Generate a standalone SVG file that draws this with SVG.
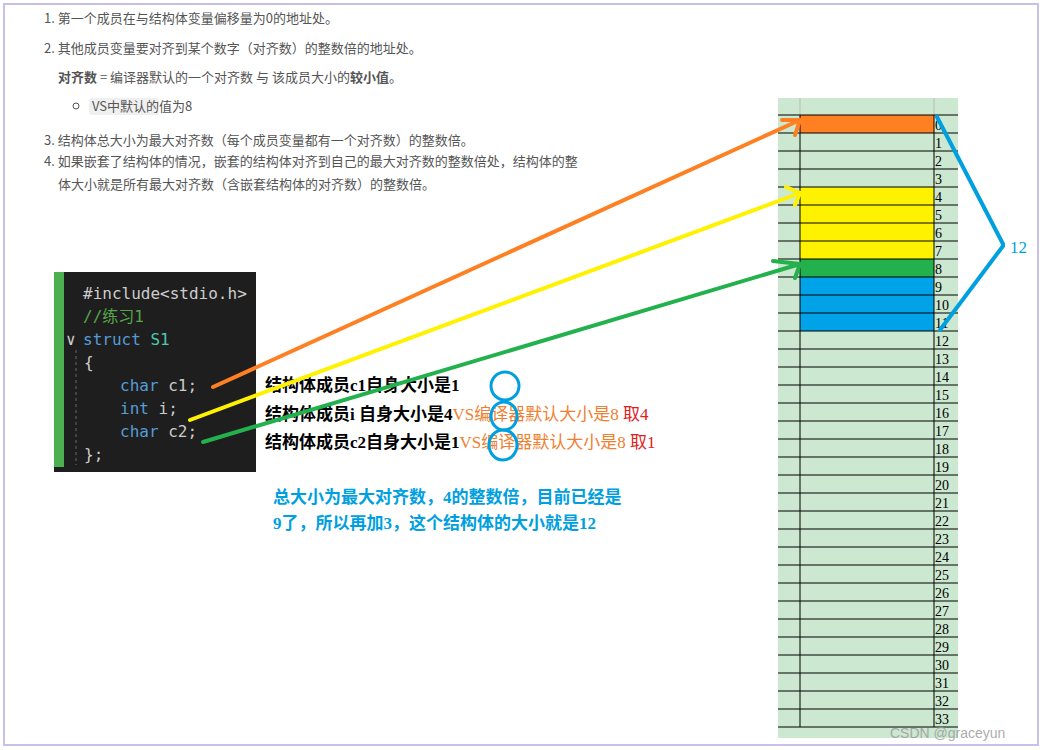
<svg xmlns="http://www.w3.org/2000/svg" width="1043" height="750" viewBox="0 0 1043 750">
<style>
.t{font-family:"Noto Sans CJK SC","Noto Sans",sans-serif;font-size:13px;fill:#555}
.code{font-family:"DejaVu Sans Mono","Noto Sans CJK SC",monospace;font-size:16px}
.s{font-family:"Liberation Serif","Noto Sans CJK SC",serif;font-size:17px;font-weight:bold}
.n{font-family:"Liberation Serif",serif;font-size:14px;fill:#000}
.r{stroke:#000;stroke-width:1}
.ar{fill:none;stroke-width:4;stroke-linecap:round;stroke-linejoin:round}
</style>
<rect width="1043" height="750" fill="#fff"/>
<rect x="4" y="4" width="1034" height="741" fill="none" stroke="#c8c0e8" stroke-width="2"/>
<g id="rules">
<text class="t" x="44" y="23">1. 第一个成员在与结构体变量偏移量为0的地址处。</text>
<text class="t" x="44" y="53">2. 其他成员变量要对齐到某个数字（对齐数）的整数倍的地址处。</text>
<text class="t" x="58" y="82"><tspan font-weight="bold">对齐数</tspan> = 编译器默认的一个对齐数 与 该成员大小的<tspan font-weight="bold">较小值</tspan>。</text>
<circle cx="76" cy="106" r="3" fill="none" stroke="#555"/>
<rect x="89" y="98" width="70" height="17" rx="3" fill="#f0f0f0"/>
<text class="t" x="92" y="111" font-size="12">VS中默认的值为8</text>
<text class="t" x="44" y="145">3. 结构体总大小为最大对齐数（每个成员变量都有一个对齐数）的整数倍。</text>
<text class="t" x="44" y="166">4. 如果嵌套了结构体的情况，嵌套的结构体对齐到自己的最大对齐数的整数倍处，结构体的整</text>
<text class="t" x="58" y="189">体大小就是所有最大对齐数（含嵌套结构体的对齐数）的整数倍。</text>
</g>
<g id="code">
<rect x="54" y="272" width="202" height="200" fill="#1e1e1e"/>
<rect x="54" y="272" width="10" height="195" fill="#4caf50"/>
<text class="code" x="83" y="299" fill="#ccc">#include&lt;stdio.h&gt;</text>
<text class="code" x="83" y="322" fill="#57a64a">//练习1</text>
<text class="code" x="66" y="345" fill="#ccc">∨</text>
<text class="code" x="83" y="345" fill="#569cd6">struct <tspan fill="#4ec9b0">S1</tspan></text>
<text class="code" x="84" y="368" fill="#ccc">{</text>
<text class="code" x="120" y="391" fill="#569cd6">char <tspan fill="#ccc">c1;</tspan></text>
<text class="code" x="120" y="414" fill="#569cd6">int <tspan fill="#ccc">i;</tspan></text>
<text class="code" x="120" y="437" fill="#569cd6">char <tspan fill="#ccc">c2;</tspan></text>
<text class="code" x="84" y="460" fill="#ccc">};</text>
<line x1="76" y1="350" x2="76" y2="465" stroke="#666" stroke-dasharray="3,3"/>
</g>
<g id="explain">
<text class="s" x="265" y="391">结构体成员c1自身大小是1</text>
<text class="s" x="265" y="420">结构体成员i 自身大小是4<tspan fill="#f08030" font-weight="normal">VS编译器默认大小是8 </tspan><tspan fill="#e02020" font-weight="normal">取4</tspan></text>
<text class="s" x="265" y="448">结构体成员c2自身大小是1<tspan fill="#f08030" font-weight="normal">VS编译器默认大小是8 </tspan><tspan fill="#e02020" font-weight="normal">取1</tspan></text>
<g fill="none" stroke="#00a0e0" stroke-width="3">
<ellipse cx="505" cy="386" rx="14" ry="14"/>
<ellipse cx="504" cy="416" rx="13" ry="14"/>
<ellipse cx="503" cy="445" rx="14" ry="15"/>
</g>
<text class="s" x="273" y="503" fill="#00a0e0" font-weight="normal">总大小为最大对齐数，4的整数倍，目前已经是</text>
<text class="s" x="273" y="529" fill="#00a0e0" font-weight="normal">9了，所以再加3，这个结构体的大小就是12</text>
</g>
<g id="table">
<rect x="778" y="98" width="180" height="640" fill="#cce8d0"/>
<rect x="800" y="115" width="134" height="18" fill="#ff8022"/>
<rect x="800" y="187" width="134" height="72" fill="#fff200"/>
<rect x="800" y="259" width="134" height="18" fill="#22b14c"/>
<rect x="800" y="277" width="134" height="54" fill="#00a2e8"/>
<line x1="800" y1="98" x2="800" y2="115" stroke="#bbb"/>
<line x1="934" y1="98" x2="934" y2="115" stroke="#bbb"/>
<line class="r" x1="800" y1="115" x2="800" y2="727"/>
<line class="r" x1="934" y1="115" x2="934" y2="727"/>
<g class="r">
<path d="M778 115H958M778 133H958M778 151H958M778 169H958M778 187H958M778 205H958M778 223H958M778 241H958M778 259H958M778 277H958M778 295H958M778 313H958M778 331H958M778 349H958M778 367H958M778 385H958M778 403H958M778 421H958M778 439H958M778 457H958M778 475H958M778 493H958M778 511H958M778 529H958M778 547H958M778 565H958M778 583H958M778 601H958M778 619H958M778 637H958M778 655H958M778 673H958M778 691H958M778 709H958M778 727H958"/>
</g>
<g class="n">
<text x="935" y="130">0</text><text x="935" y="148">1</text><text x="935" y="166">2</text><text x="935" y="184">3</text><text x="935" y="202">4</text><text x="935" y="220">5</text><text x="935" y="238">6</text><text x="935" y="256">7</text><text x="935" y="274">8</text><text x="935" y="292">9</text><text x="935" y="310">10</text><text x="935" y="328">11</text><text x="935" y="346">12</text><text x="935" y="364">13</text><text x="935" y="382">14</text><text x="935" y="400">15</text><text x="935" y="418">16</text><text x="935" y="436">17</text><text x="935" y="454">18</text><text x="935" y="472">19</text><text x="935" y="490">20</text><text x="935" y="508">21</text><text x="935" y="526">22</text><text x="935" y="544">23</text><text x="935" y="562">24</text><text x="935" y="580">25</text><text x="935" y="598">26</text><text x="935" y="616">27</text><text x="935" y="634">28</text><text x="935" y="652">29</text><text x="935" y="670">30</text><text x="935" y="688">31</text><text x="935" y="706">32</text><text x="935" y="724">33</text>
</g>
<text x="1010" y="253" font-family="Liberation Serif,serif" font-size="17" fill="#00a0e0">12</text>
</g>
<g id="connectors">
<path class="ar" stroke="#ff8022" d="M213 387L800 120M782 120L800 120L795 135"/>
<path class="ar" stroke="#fff200" d="M190 420L800 193M786 187L800 193L795 205"/>
<path class="ar" stroke="#22b14c" d="M203 442L800 264M773 261L800 264L795 278"/>
<path class="ar" stroke="#00a0e0" d="M937 117L1003 244M1003 246L940 330"/>
</g>
<text x="890" y="738" font-family="Liberation Sans,sans-serif" font-size="14" fill="#999" opacity="0.8">CSDN @graceyun</text>
</svg>
